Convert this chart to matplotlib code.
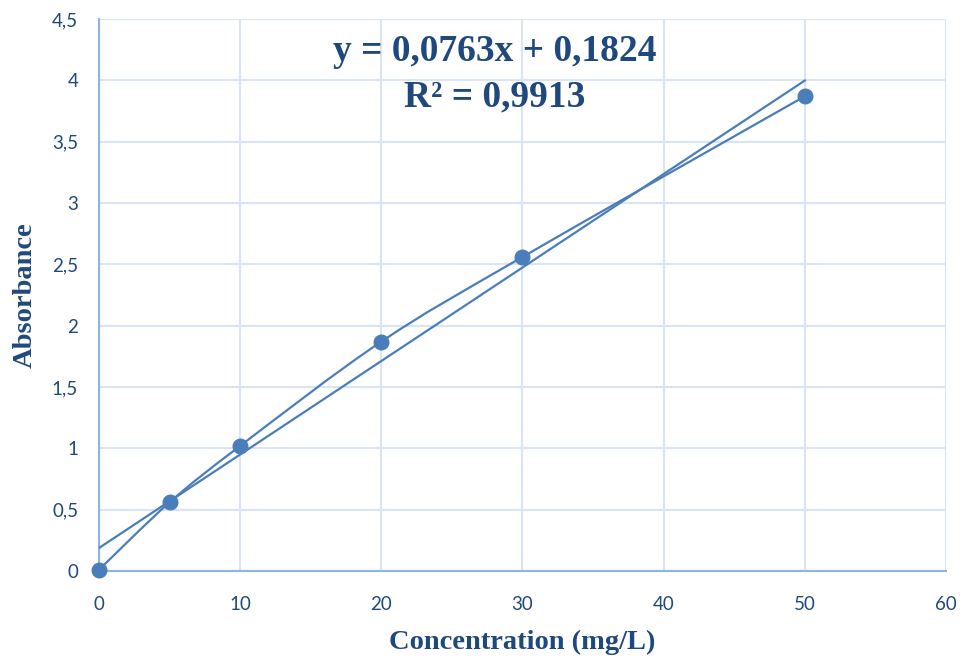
import numpy as np
import matplotlib.pyplot as plt
from matplotlib.path import Path
from matplotlib.patches import PathPatch
from matplotlib.ticker import FuncFormatter, MultipleLocator

# data
conc = [0, 5, 10, 20, 30, 50]
absorb = [0.01, 0.56, 1.02, 1.87, 2.56, 3.87]
eq_text = 'y = 0,0763x + 0,1824'
r2_text = 'R² = 0,9913'

lineColor = '#4A7EBB'
txtColor = '#1F497D'
gridColor = '#D9E5F4'
spineColor = '#8EB4E3'

fig = plt.figure(figsize=(9.64, 6.59), dpi=100)
ax = fig.add_axes([0.1027, 0.1335, 0.8786, 0.8377])

# smooth line through points (Excel-style Catmull-Rom bezier)
x = np.array(conc, dtype=float)
y = np.array(absorb, dtype=float)
verts = [(x[0], y[0])]
codes = [Path.MOVETO]
n = len(x)
for i in range(n - 1):
    p0 = np.array([x[max(i - 1, 0)], y[max(i - 1, 0)]])
    p1 = np.array([x[i], y[i]])
    p2 = np.array([x[i + 1], y[i + 1]])
    p3 = np.array([x[min(i + 2, n - 1)], y[min(i + 2, n - 1)]])
    c1 = p1 + (p2 - p0) / 6.0
    c2 = p2 - (p3 - p1) / 6.0
    verts += [tuple(c1), tuple(c2), tuple(p2)]
    codes += [Path.CURVE4, Path.CURVE4, Path.CURVE4]
ax.add_patch(PathPatch(Path(verts, codes), facecolor='none',
                       edgecolor=lineColor, lw=1.6, zorder=3))

# linear trendline
slope, icpt = np.polyfit(x, y, 1)
xt = np.array([x.min(), x.max()])
ax.plot(xt, slope * xt + icpt, color=lineColor, lw=1.6, zorder=3)

ax.plot(x, y, 'o', color=lineColor, markersize=10.5, zorder=4, clip_on=False)

ax.set_xlim(0, 60)
ax.set_ylim(0, 4.5)
ax.xaxis.set_major_locator(MultipleLocator(10))
ax.yaxis.set_major_locator(MultipleLocator(0.5))
fmt = FuncFormatter(lambda v, p: ('%g' % v).replace('.', ','))
ax.xaxis.set_major_formatter(fmt)
ax.yaxis.set_major_formatter(fmt)

ax.grid(True, color=gridColor, lw=1.5, zorder=0)
ax.set_axisbelow(True)
for s in ['top', 'right']:
    ax.spines[s].set_visible(False)
for s in ['left', 'bottom']:
    ax.spines[s].set_color(spineColor)
    ax.spines[s].set_linewidth(1.5)
ax.tick_params(length=0, labelsize=13.5, labelcolor=txtColor)
ax.tick_params(axis='x', pad=18)
ax.tick_params(axis='y', pad=15)
for lab in ax.get_xticklabels() + ax.get_yticklabels():
    lab.set_fontfamily('Lato')

serif = dict(family='Liberation Serif', weight='bold', color=txtColor)
ax.set_xlabel('Concentration (mg/L)', fontsize=20.5, labelpad=12, **serif)
ax.set_ylabel('Absorbance', fontsize=20.5, labelpad=10, **serif)

fig.text(0.513, 0.922, eq_text, ha='center', va='center', fontsize=27, **serif)
fig.text(0.513, 0.853, r2_text, ha='center', va='center', fontsize=27, **serif)

fig.savefig('out.png', dpi=100)
